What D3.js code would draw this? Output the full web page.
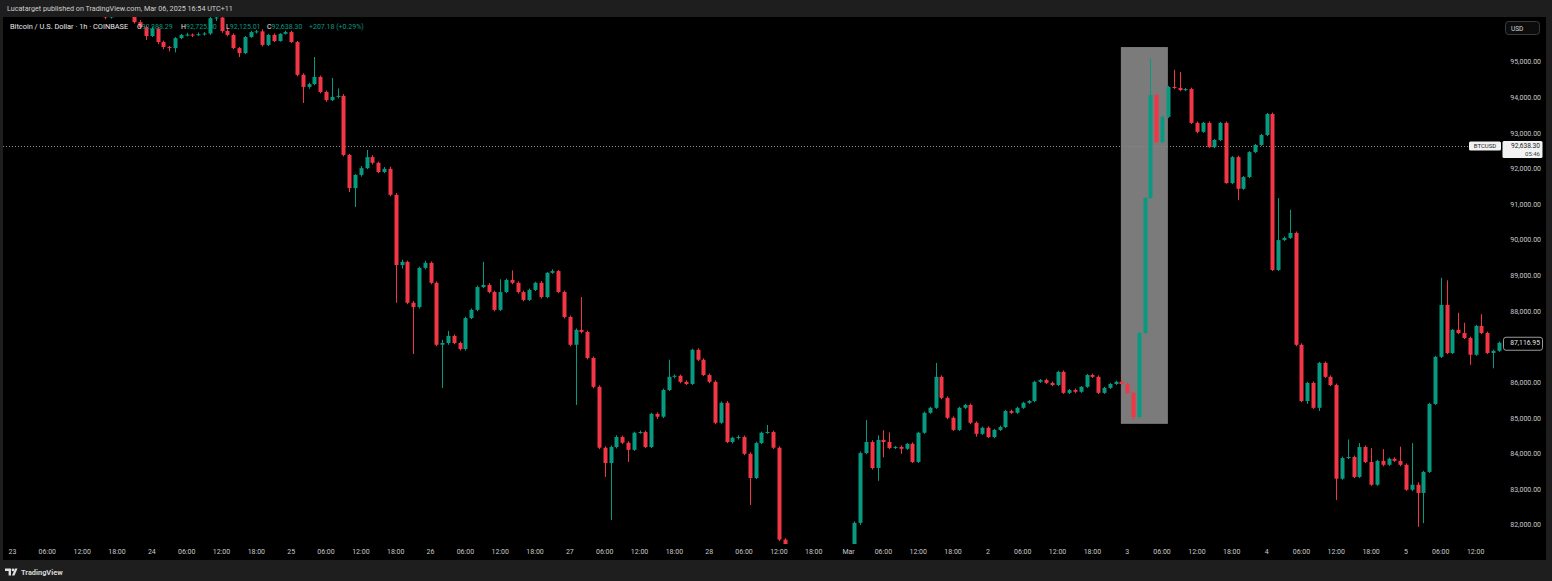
<!DOCTYPE html>
<html><head><meta charset="utf-8">
<script src="https://cdn.jsdelivr.net/npm/d3@7"></script>
<style>
html,body{margin:0;padding:0;background:#1e1e1e;overflow:hidden;}
svg{display:block;}
text{font-family:Roboto,"Noto Sans",sans-serif;}
</style></head><body>
<svg id="c" width="1552" height="581"></svg>
<script>
// ---------- DATA ----------
const headerText = "Lucatarget published on TradingView.com, Mar 06, 2025 16:54 UTC+11";
const symbolTitle = "Bitcoin / U.S. Dollar · 1h · COINBASE";
const legendKeys = ["O","H","L","C"];
const legendValues = ["92,388.29","92,725.00","92,125.01","92,638.30"];
const legendChange = "+207.18 (+0.29%)";
const startTime = "2025-02-23T00:00:00Z";   // first hourly candle
// hourly candles [open, high, low, close]
const candles = [
[96480,96620,96420,96560],[96560,96610,96380,96420],[96420,96650,96390,96600],[96600,96760,96560,96700],
[96700,96740,96600,96650],[96650,96860,96620,96800],[96800,96840,96680,96720],[96720,96750,96570,96610],
[96610,96720,96580,96680],[96680,96700,96500,96540],[96540,96580,96430,96470],[96470,96620,96440,96580],
[96580,96690,96540,96640],[96640,96660,96480,96520],[96520,96560,96420,96450],[96450,96490,96350,96380],
[96380,96420,96200,96250],[96250,96360,96220,96330],[96330,96470,96300,96420],[96420,96460,96340,96380],
[96380,96420,96290,96330],[96330,96380,96080,96120],[96120,96180,95950,95980],[95980,96030,95620,95730],
[95730,95990,95700,95930],[95930,95990,95500,95560],[95560,95600,95360,95420],[95420,95450,95300,95390],
[95390,95700,95270,95670],[95670,95790,95640,95760],[95760,95820,95720,95770],[95770,95800,95700,95760],
[95760,95830,95730,95780],[95780,95840,95740,95800],[95800,96300,95760,96230],[96230,96350,96150,96250],
[96250,96290,95820,95870],[95870,95920,95720,95760],[95760,95800,95360,95390],[95390,95420,95140,95250],
[95250,95730,95220,95700],[95700,95880,95680,95840],[95840,95900,95800,95860],[95860,95920,95440,95480],
[95480,95790,95450,95760],[95760,95800,95560,95590],[95590,95810,95570,95790],[95790,95880,95770,95840],
[95840,95880,95530,95560],[95560,95590,94600,94640],[94640,94680,93850,94300],[94300,94420,94250,94380],
[94380,95140,94350,94580],[94580,94620,94120,94160],[94160,94200,93880,93930],[93930,94550,93900,94020],
[94020,94260,93980,94050],[94050,94100,92350,92390],[92390,92420,91350,91460],[91460,91850,90930,91830],
[91830,92080,91780,92020],[92020,92530,91990,92330],[92330,92380,92120,92170],[92170,92200,91880,91910],
[91910,92050,91880,92000],[92000,92060,91230,91270],[91270,91320,88240,89300],[89300,89450,89200,89390],
[89390,89420,88200,88240],[88240,88290,86800,88120],[88120,89250,88080,89220],[89220,89420,89180,89360],
[89360,89400,88760,88800],[88800,88840,87020,87060],[87060,87200,85850,87110],[87110,87450,87060,87310],
[87310,87350,87080,87110],[87110,87150,86900,86940],[86940,87850,86900,87810],[87810,88080,87780,88040],
[88040,88720,88000,88680],[88680,89390,88650,88740],[88740,88790,88500,88540],[88540,88580,88000,88040],
[88040,88900,88010,88540],[88540,88920,88510,88880],[88880,89150,88760,88800],[88800,88840,88500,88540],
[88540,88580,88280,88320],[88320,88640,88290,88600],[88600,88830,88570,88800],[88800,88850,88360,88400],
[88400,89100,88370,89080],[89080,89180,89050,89130],[89130,89160,88510,88540],[88540,88580,87800,87840],
[87840,87880,87020,87060],[87060,87520,85370,87480],[87480,88400,87380,87420],[87420,87460,86650,86690],
[86690,86730,85840,85880],[85880,85920,84130,84170],[84170,84210,83350,83740],[83740,84230,82140,84190],
[84190,84520,84150,84470],[84470,84510,84270,84310],[84310,84350,83770,84110],[84110,84620,84080,84590],
[84590,84650,84560,84610],[84610,84650,84160,84190],[84190,85150,84160,85120],[85120,85160,84980,85040],
[85040,85830,85000,85790],[85790,86640,85760,86160],[86160,86230,86120,86190],[86190,86220,85980,86020],
[86020,86060,85930,85960],[85960,86950,85930,86920],[86920,86960,86600,86640],[86640,86680,86180,86210],
[86210,86250,85980,86020],[86020,86060,84830,84870],[84870,85470,84840,85430],[85430,85480,84300,84330],
[84330,84480,84290,84450],[84450,84520,84400,84470],[84470,84510,83960,84000],[84000,84040,82560,83320],
[83320,84340,83290,84300],[84300,84620,84270,84590],[84590,84810,84560,84610],[84610,84650,84130,84170],
[84170,84210,81550,81590],[81590,81630,80700,80900],[80900,81000,79500,79600],[79600,79800,78800,79000],
[79000,79400,78300,79200],[79200,79800,79000,79700],[79700,80300,79500,80200],[80200,80500,79900,80100],
[80100,80800,80000,80700],[80700,80900,80300,80400],[80400,81000,80300,80900],[80900,81300,80800,81200],
[81200,81350,80900,81100],[81100,82100,81050,82060],[82060,84060,82000,84020],[84020,84950,83990,84330],
[84330,84380,83560,83600],[83600,84520,83240,84390],[84390,84660,83900,84330],[84330,84600,84130,84160],
[84160,84220,84130,84190],[84190,84230,84000,84140],[84140,84300,84110,84280],[84280,84320,83740,83770],
[83770,84620,83740,84590],[84590,85180,84560,85150],[85150,85320,85120,85290],[85290,86550,85260,86160],
[86160,86200,85530,85570],[85570,85610,84970,85010],[85010,85050,84640,84670],[84670,85320,84640,85290],
[85290,85400,85260,85370],[85370,85410,84830,84870],[84870,84910,84480,84560],[84560,84760,84530,84730],
[84730,84770,84440,84470],[84470,84700,84440,84670],[84670,84790,84640,84750],[84750,85230,84720,85200],
[85200,85240,85120,85150],[85150,85320,85120,85290],[85290,85460,85260,85430],[85430,85510,85400,85480],
[85480,86050,85450,86020],[86020,86100,85990,86070],[86070,86110,85960,85990],[85990,86030,85900,85930],
[85930,86330,85900,86300],[86300,86340,85680,85710],[85710,85820,85680,85790],[85790,85830,85700,85740],
[85740,85900,85710,85880],[85880,86240,85850,86210],[86210,86250,86130,86160],[86160,86200,85680,85710],
[85710,85880,85680,85850],[85850,85990,85820,85960],[85960,86050,85930,86020],[86020,86060,85930,85960],
[85960,86000,85680,85710],[85710,85750,84950,85030],[85030,87420,85000,87390],[87390,91210,87360,91180],
[91180,95110,91150,94070],[94070,94110,92720,92750],[92750,93500,92720,93460],[93460,94330,93430,94300],
[94300,94780,94240,94270],[94270,94720,94180,94210],[94210,94270,94180,94240],[94240,94280,93260,93290],
[93290,93330,93000,93040],[93040,93320,93010,93290],[93290,93330,92590,92610],[92610,92840,92580,92810],
[92810,93320,92780,93290],[93290,93330,91580,91600],[91600,92360,91570,92330],[92330,92370,91120,91440],
[91440,91800,91410,91770],[91770,92500,91740,92470],[92470,92700,92440,92670],[92670,92980,92640,92950],
[92950,93570,92920,93540],[93540,93580,89130,89160],[89160,91180,89130,90000],[90000,90100,89970,90060],
[90060,90850,90030,90200],[90200,90240,87020,87060],[87060,87100,85450,85480],[85480,86020,85400,85990],
[85990,86030,85260,85290],[85290,86580,85200,86550],[86550,86590,86130,86160],[86160,86200,85900,85930],
[85930,85970,82700,83300],[83300,83920,83270,83880],[83880,84400,83850,83910],[83910,83950,83320,83350],
[83350,84300,83320,84190],[84190,84230,83740,83770],[83770,84160,83100,83130],[83130,83830,83100,83800],
[83800,84130,83650,83690],[83690,83890,83660,83860],[83860,83900,83770,83800],[83800,84200,83650,83690],
[83690,83730,82960,82990],[82990,84300,82950,83130],[83130,83200,81950,82900],[82900,83520,82050,83490],
[83490,85430,83460,85400],[85400,86750,85370,86720],[86720,88940,86690,88180],[88180,88870,86800,86830],
[86830,87500,86800,87480],[87480,87960,87360,87390],[87390,87680,87220,87250],[87250,87290,86500,86780],
[86780,87620,86750,87590],[87590,87920,87360,87390],[87390,87430,86800,86830],[86830,86920,86400,86890],
[86890,87150,86860,87116.95]
];
// 87,000 is hidden behind the last-price label in the reference
const priceTicks = [82000,83000,84000,85000,86000,88000,89000,90000,91000,92000,93000,94000,95000];
const dayLabels = ["23","24","25","26","27","28","Mar","2","3","4","5"];
const hourLabels = ["06:00","12:00","18:00"];
const lastPrice = 87116.95;
const linePrice = 92638.30;
const linePriceLabel = "BTCUSD";
const linePriceText = "92,638.30";
const linePriceTimer = "05:46";
const boxTimes = ["2025-03-02T22:54:00Z","2025-03-03T07:00:00Z"];
const boxPrices = [95420, 84840];

// ---------- DRAW ----------
const svg = d3.select("#c");
const W = 1552, H = 581;
const panel = {left:3, top:17, right:1546, bottom:560};
const plot = {left:3, top:17, right:1502, bottom:544};
const UP = "#089981", DOWN = "#f23645";
const FS = 7;

svg.append("rect").attr("width",W).attr("height",H).attr("fill","#1e1e1e");
svg.append("rect").attr("x",panel.left).attr("y",panel.top)
   .attr("width",panel.right-panel.left).attr("height",panel.bottom-panel.top).attr("fill","#000");

const t0 = new Date(startTime);
const hour = 3600*1000;
const x = d3.scaleUtc()
  .domain([t0, new Date(t0.getTime()+240*hour)])
  .range([12.5, 12.5+240*5.806]);
const y = d3.scaleLinear().domain([82000,95000]).range([525,62]);

svg.append("clipPath").attr("id","clip").append("rect")
  .attr("x",plot.left).attr("y",plot.top).attr("width",plot.right-plot.left).attr("height",plot.bottom-plot.top);
const g = svg.append("g").attr("clip-path","url(#clip)");

// highlight box
g.append("rect")
  .attr("x", x(new Date(boxTimes[0]))).attr("y", y(boxPrices[0]))
  .attr("width", x(new Date(boxTimes[1]))-x(new Date(boxTimes[0])))
  .attr("height", y(boxPrices[1])-y(boxPrices[0]))
  .attr("fill","#7b7b7b");

// price line (dotted)
g.append("line").attr("x1",plot.left).attr("x2",1470)
  .attr("y1",Math.round(y(linePrice))+0.5).attr("y2",Math.round(y(linePrice))+0.5)
  .attr("stroke","#8a8a8a").attr("stroke-width",1).attr("stroke-dasharray","1,2");

const data = candles.map((d,i)=>({t:new Date(t0.getTime()+i*hour),o:d[0],h:d[1],l:d[2],c:d[3]}));
const cg = g.append("g");
cg.selectAll("line.w").data(data).join("line")
  .attr("x1",d=>Math.round(x(d.t))+0.5).attr("x2",d=>Math.round(x(d.t))+0.5)
  .attr("y1",d=>y(d.h)).attr("y2",d=>y(d.l))
  .attr("stroke",d=>d.c>=d.o?UP:DOWN).attr("stroke-width",1);
cg.selectAll("rect.b").data(data).join("rect")
  .attr("x",d=>Math.round(x(d.t))-1.5).attr("width",4)
  .attr("y",d=>Math.min(y(d.o),y(d.c)))
  .attr("height",d=>Math.max(1,Math.abs(y(d.o)-y(d.c))))
  .attr("fill",d=>d.c>=d.o?UP:DOWN);

// price axis
const fmt = d3.format(",.2f");
svg.append("g").selectAll("text").data(priceTicks).join("text")
  .attr("x",1541).attr("y",d=>y(d)+2.4).attr("text-anchor","end")
  .attr("font-size",FS).attr("fill","#c9c9c9").text(d=>fmt(d));

// USD box
svg.append("rect").attr("x",1505.5).attr("y",21.5).attr("width",34).attr("height",13).attr("rx",3)
  .attr("fill","#0c0c0c").attr("stroke","#3a3a3a");
svg.append("text").attr("x",1511).attr("y",30.5).attr("font-size",6.5).attr("fill","#d6d6d6").text("USD");

// time axis
const timeTicks = [];
for (let k=0;k<=42;k++){
  const tt = new Date(t0.getTime()+k*6*hour);
  const hh = tt.getUTCHours();
  const lab = hh===0 ? dayLabels[k/4] : hourLabels[hh/6-1];
  timeTicks.push({t:tt,lab});
}
svg.append("g").selectAll("text").data(timeTicks).join("text")
  .attr("x",d=>x(d.t)).attr("y",553.5).attr("text-anchor","middle")
  .attr("font-size",FS).attr("fill","#c9c9c9").text(d=>d.lab);

// line price label
const ly = y(linePrice);
svg.append("rect").attr("x",1469).attr("y",ly-4.5).attr("width",32).attr("height",9).attr("rx",1.5).attr("fill","#f2f2f2");
svg.append("text").attr("x",1485).attr("y",ly+2.2).attr("text-anchor","middle").attr("font-size",6).attr("fill","#222").text(linePriceLabel);
svg.append("rect").attr("x",1502.5).attr("y",ly-5).attr("width",40).attr("height",17).attr("rx",1.5).attr("fill","#f2f2f2");
svg.append("text").attr("x",1540).attr("y",ly+2.2).attr("text-anchor","end").attr("font-size",6.6).attr("fill","#222").text(linePriceText);
svg.append("text").attr("x",1540).attr("y",ly+9.8).attr("text-anchor","end").attr("font-size",6).attr("fill","#444").text(linePriceTimer);

// last price label
const lpy = y(lastPrice);
svg.append("rect").attr("x",1503.5).attr("y",lpy-5.5).attr("width",39).attr("height",13).attr("rx",2.5)
  .attr("fill","#000").attr("stroke","#9a9a9a");
svg.append("text").attr("x",1540).attr("y",lpy+2).attr("text-anchor","end").attr("font-size",6.8).attr("fill","#e6e6e6").text(fmt(lastPrice));

// header
svg.append("text").attr("x",7).attr("y",10.5).attr("font-size",7.2).attr("fill","#d0d0d0").text(headerText);

// legend (overlay)
svg.append("text").attr("x",10).attr("y",28.5).attr("font-size",7.4).attr("fill","#e8e8e8").text(symbolTitle);
const legendX = [137,181,226,267];
legendKeys.forEach((k,i)=>{
  const t = svg.append("text").attr("x",legendX[i]).attr("y",28.5).attr("font-size",7);
  t.append("tspan").attr("fill","#e8e8e8").text(k);
  t.append("tspan").attr("fill",UP).text(legendValues[i]);
});
svg.append("text").attr("x",309).attr("y",28.5).attr("font-size",7).attr("fill",UP).text(legendChange);

// footer logo
const logo = svg.append("g").attr("transform","translate(5,568.5)");
logo.append("path").attr("d","M0,0 H6 V7 H3.6 V2.4 H0 Z").attr("fill","#e0e0e0");
logo.append("circle").attr("cx",8).attr("cy",1.4).attr("r",1.4).attr("fill","#e0e0e0");
logo.append("path").attr("d","M7,7 L10,0 H12.5 L9.5,7 Z").attr("fill","#e0e0e0");
svg.append("text").attr("x",21).attr("y",575).attr("font-size",7.4).attr("fill","#d8d8d8").attr("font-weight","bold").text("TradingView");
</script>
</body></html>
